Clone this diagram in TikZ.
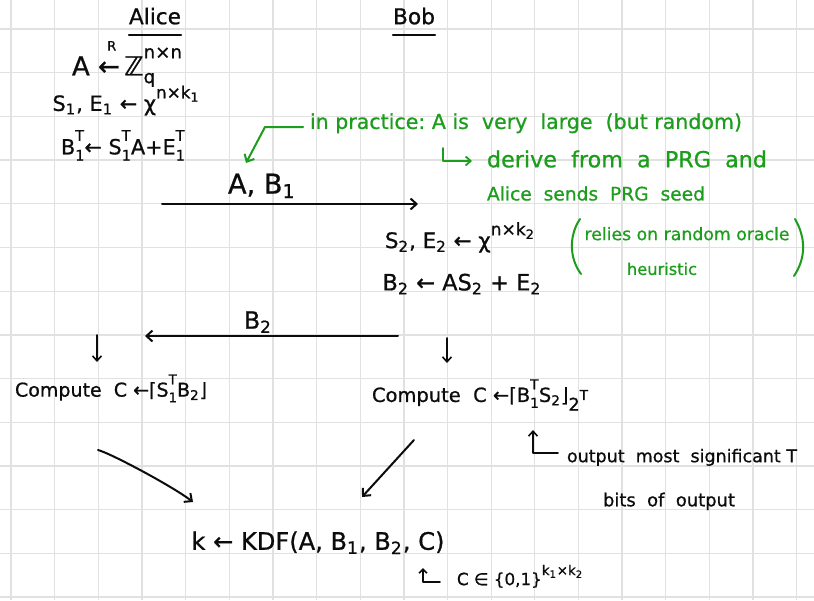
\documentclass[tikz,border=0pt]{standalone}
\usepackage{fontspec}
\setmainfont{DejaVu Sans}[FakeBold=0.8]
\usetikzlibrary{arrows.meta}
\definecolor{gridc}{RGB}{225,225,225}
\definecolor{ink}{RGB}{12,12,12}
\definecolor{gink}{RGB}{28,158,28}
\newcommand\Sp[1]{\textsuperscript{#1}}
\newcommand\Sb[1]{\textsubscript{#1}}
\newcommand\BigSp[1]{\raisebox{0.6em}{\footnotesize #1}}
\newcommand\SpSb[2]{\leavevmode\ooalign{\raisebox{0.65em}{\scriptsize #1}\cr\raisebox{-0.3em}{\scriptsize #2}\cr}}
\newcommand\fitw[2]{\resizebox{#1pt}{!}{\strut #2}}
\tikzset{
  hand/.style={draw=ink, line width=2pt, line cap=round, line join=round},
  ghand/.style={draw=gink, line width=2pt, line cap=round, line join=round},
  tip/.style={-{Straight Barb[length=6pt,width=11pt,line width=2pt]}},
  txt/.style={inner sep=0pt, text=ink, anchor=center},
  gtxt/.style={inner sep=0pt, text=gink, anchor=center}
}
\begin{document}
\begin{tikzpicture}[x=1pt,y=-1pt]
\useasboundingbox (0,0) rectangle (814,600);
\fill[white] (0,0) rectangle (814,600);
% grid
\foreach \i in {0,...,18} \draw[gridc, line width=1.3pt] ({11+43.65*\i},0) -- ({11+43.65*\i},600);
\foreach \j in {0,...,13} \draw[gridc, line width=1.3pt] (0,{29+43.7*\j}) -- (814,{29+43.7*\j});

% headers
\node[txt] (alice) at (155,19) {\fitw{52}{Alice}};
\draw[hand] ([yshift=-3pt]alice.south west) -- ([yshift=-3pt]alice.south east);
\node[txt] (bob) at (414,19) {\fitw{42}{Bob}};
\draw[hand] ([yshift=-3pt]bob.south west) -- ([yshift=-3pt]bob.south east);

% Alice side
\node[txt] (a1) at (127,64) {\fitw{110}{A\ \makebox[0pt][l]{\raisebox{0.95em}{\hspace{0.35em}\tiny R}}←\,ℤ\SpSb{n×n}{q}}};
\node[txt] (a2) at (126,102) {\fitw{147}{S\Sb{1}, E\Sb{1} ← χ\BigSp{n×k\Sb{1}}}};
\node[txt] (a3) at (123,146) {\fitw{124}{B\SpSb{T}{1}← S\SpSb{T}{1}A+E\SpSb{T}{1}}};

% message 1
\coordinate (m1s) at (162,204);
\coordinate (m1e) at (418,204);
\draw[hand, tip] (m1s) -- (m1e);
\node[txt] (m1l) at (262,187) {\fitw{68}{A, B\Sb{1}}};

% Bob side
\node[txt] (b1) at (460,239) {\fitw{150}{S\Sb{2}, E\Sb{2} ← χ\BigSp{n×k\Sb{2}}}};
\node[txt] (b2) at (462,285) {\fitw{159}{B\Sb{2} ← AS\Sb{2} + E\Sb{2}}};

% message 2
\coordinate (m2s) at (398,336);
\coordinate (m2e) at (145,336);
\draw[hand, tip] (m2s) -- (m2e);
\node[txt] (m2l) at (258,323) {\fitw{28}{B\Sb{2}}};

% down arrows
\coordinate (d1s) at (97,335); \coordinate (d1e) at (97,362);
\draw[hand, line width=1.6pt, -{Straight Barb[length=5pt,width=9pt,line width=1.6pt]}] (d1s) -- (d1e);
\coordinate (d2s) at (447,338); \coordinate (d2e) at (447,363);
\draw[hand, line width=1.6pt, -{Straight Barb[length=5pt,width=9pt,line width=1.6pt]}] (d2s) -- (d2e);

% compute lines
\node[txt] (c1) at (111,389) {\fitw{192}{Compute\ \ C ←⌈S\SpSb{T}{1}B\Sb{2}⌋}};
\node[txt] (c2) at (480,395) {\fitw{216}{Compute\ \ C ←⌈B\SpSb{T}{1}S\Sb{2}⌋\raisebox{-0.45em}{\small 2}\raisebox{0.1em}{\scriptsize T}}};

% to KDF
\node[txt] (kdf) at (318,544) {\fitw{253}{k ← KDF(A, B\Sb{1}, B\Sb{2}, C)}};
\coordinate (s1s) at (98,450); \coordinate (s1e) at (193,502);
\draw[hand, tip] (s1s) .. controls (110,453) and (172,486) .. (s1e);
\coordinate (s2s) at (414,440); \coordinate (s2e) at (362,497);
\draw[hand, tip] (s2s) -- (s2e);

% annotation right
\coordinate (h1a) at (558,453); \coordinate (h1b) at (533,453); \coordinate (h1c) at (533,430);
\draw[hand, line width=1.6pt, -{Straight Barb[length=5pt,width=9pt,line width=1.6pt]}] (h1a) -- (h1b) -- (h1c);
\node[txt] (n1) at (682,458) {\fitw{230}{output\ \ most\ \ significant T}};
\node[txt] (n2) at (669,502) {\fitw{132}{bits\ \ of\ \ output}};

% C in {0,1}
\coordinate (h2a) at (440,582); \coordinate (h2b) at (423,582); \coordinate (h2c) at (423,568);
\draw[hand, line width=1.6pt, -{Straight Barb[length=4pt,width=8pt,line width=1.6pt]}] (h2a) -- (h2b) -- (h2c);
\node[txt] (cin) at (520,578) {\fitw{126}{C ∈ \{0,1\}\BigSp{k\Sb{1}×k\Sb{2}}}};

% green notes
\coordinate (g0a) at (303,127); \coordinate (g0b) at (265,127); \coordinate (g0c) at (246,163);
\draw[ghand, -{Straight Barb[length=6pt,width=11pt,line width=2pt]}] (g0a) -- (g0b) -- (g0c);
\node[gtxt] (g1) at (526,124) {\fitw{432}{in practice:\ A is\ \ very\ \ large\ \ (but random)}};
\coordinate (gh1) at (443,148); \coordinate (gh2) at (443,161); \coordinate (gh3) at (472,161);
\draw[ghand, line width=1.8pt, -{Straight Barb[length=5pt,width=9pt,line width=1.8pt]}] (gh1) -- (gh2) -- (gh3);
\node[gtxt] (g2) at (627,162) {\fitw{280}{derive\ \ from\ \ a\ \ PRG\ \ and}};
\node[gtxt] (g3) at (596,196) {\fitw{218}{Alice\ \ sends\ \ PRG\ \ seed}};
\node[gtxt] (g4) at (687,236) {\fitw{205}{relies on random oracle}};
\node[gtxt] (g5) at (662,271) {\fitw{70}{heuristic}};
\draw[ghand] (580,219) .. controls (569,235) and (569,258) .. (581,274);
\draw[ghand] (795,219) .. controls (806,238) and (806,258) .. (794,276);
\end{tikzpicture}
\end{document}
